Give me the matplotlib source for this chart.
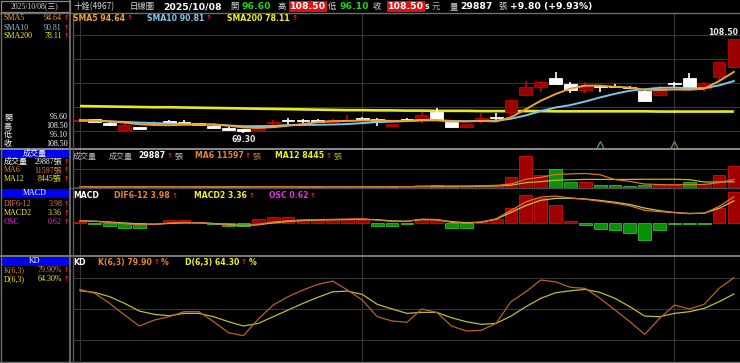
import matplotlib
matplotlib.use("Agg")
import matplotlib.pyplot as plt
from matplotlib.patches import Rectangle
import matplotlib.transforms as mtrans
import numpy as np

W, H, DPI = 740, 363, 100

# ---------------- data ----------------
stock_name = "十銓(4967)"
chart_type = "日線圖"
date_str = "2025/10/08"
weekday = "三"

opens = [74.2, 74.9, 73.2, 70.4, 71.5, 72.8, 74.1, 73.6, 73.2, 72.1,
         71.4, 70.7, 70.2, 73.3, 74.4, 74.2, 74.6, 73.9, 74.3, 75.2,
         75.2, 72.1, 75.0, 74.6, 78.0, 73.9, 71.5, 75.0, 75.8, 78.0,
         85.0, 88.5, 92.0, 89.6, 87.1, 88.4, 88.6, 88.5, 86.7, 85.0,
         89.7, 92.0, 87.8, 92.6, 96.6]
highs = [74.6, 75.0, 73.6, 73.2, 71.8, 74.1, 74.4, 74.5, 73.4, 72.3,
         71.6, 71.0, 72.7, 74.6, 75.3, 74.9, 74.8, 74.9, 76.7, 76.0,
         75.5, 73.0, 75.6, 77.8, 79.5, 74.1, 73.0, 77.4, 77.4, 83.0,
         91.0, 90.7, 94.7, 90.5, 90.5, 88.6, 89.5, 88.7, 86.9, 88.7,
         90.5, 94.0, 90.5, 98.8, 108.5]
lows = [74.0, 73.6, 72.0, 70.1, 70.4, 72.0, 73.1, 72.6, 72.2, 70.9,
        70.2, 69.3, 70.0, 72.6, 73.0, 73.2, 73.8, 73.7, 73.9, 74.6,
        72.2, 71.9, 74.1, 73.2, 74.4, 71.3, 71.3, 73.2, 73.9, 75.8,
        84.8, 86.4, 89.3, 85.7, 85.7, 86.4, 87.8, 87.8, 82.1, 84.8,
        88.5, 87.4, 86.8, 91.3, 96.1]
closes = [74.4, 73.8, 72.6, 72.5, 70.7, 73.1, 73.4, 73.5, 72.4, 71.1,
          70.4, 70.1, 72.4, 73.9, 74.2, 74.0, 73.95, 74.4, 74.6, 75.0,
          74.0, 72.8, 74.4, 76.7, 74.6, 71.5, 72.8, 75.4, 75.6, 82.9,
          88.5, 90.5, 89.5, 86.9, 89.2, 88.2, 88.15, 88.0, 82.3, 88.5,
          89.5, 87.6, 89.9, 98.7, 108.5]

sma5 = [74.6, 74.4, 74.0, 73.5, 72.8, 72.5, 72.4, 72.6, 72.6, 72.7,
        72.2, 71.5, 71.3, 71.6, 72.2, 72.9, 73.7, 74.1, 74.2, 74.4,
        74.4, 74.2, 74.2, 74.6, 74.5, 74.0, 74.0, 74.2, 74.0, 75.7,
        79.1, 82.6, 85.4, 87.7, 88.9, 88.9, 88.4, 88.1, 87.2, 87.1,
        87.3, 87.2, 87.6, 90.8, 94.64]
sma10 = [74.3, 74.2, 74.0, 73.8, 73.5, 73.3, 73.1, 72.9, 72.8, 72.7,
         72.3, 72.0, 72.0, 72.1, 72.5, 72.5, 72.6, 72.7, 72.9, 73.3,
         73.7, 73.9, 74.1, 74.4, 74.5, 74.2, 74.1, 74.2, 74.3, 75.1,
         76.5, 78.3, 79.8, 80.8, 82.3, 84.0, 85.5, 86.8, 87.4, 88.0,
         88.1, 87.8, 87.85, 89.0, 90.81]
sma200 = [80.4, 80.3, 80.2, 80.1, 80.0, 79.9, 79.9, 79.8, 79.7, 79.6,
          79.5, 79.4, 79.3, 79.2, 79.1, 79.0, 78.9, 78.8, 78.7, 78.7,
          78.6, 78.6, 78.5, 78.5, 78.4, 78.4, 78.4, 78.3, 78.3, 78.3,
          78.3, 78.3, 78.2, 78.2, 78.2, 78.2, 78.2, 78.2, 78.2, 78.1,
          78.1, 78.1, 78.1, 78.1, 78.11]

volume = [2000, 1500, 1500, 2500, 1500, 1200, 1500, 1200, 1500, 1500,
          1500, 1800, 2500, 1500, 1500, 1200, 1200, 1500, 1500, 1500,
          2500, 2000, 1500, 4000, 4000, 2700, 2000, 4500, 4500, 14500,
          43500, 17700, 25800, 8500, 8500, 4000, 4000, 2700, 4500, 4500,
          5000, 7500, 5000, 17500, 29887]
vol_ma6 = [1700, 1700, 1700, 1750, 1750, 1700, 1617, 1567, 1567, 1400,
           1400, 1500, 1667, 1717, 1717, 1667, 1617, 1567, 1400, 1400,
           1567, 1700, 1750, 2167, 2583, 2783, 2700, 3117, 3617, 5367,
           11950, 14450, 18417, 19083, 19750, 18000, 11417, 8917, 5367, 4700,
           4117, 4700, 4867, 7333, 11597]
vol_ma12 = [1700, 1700, 1680, 1680, 1660, 1650, 1650, 1640, 1630, 1620,
            1620, 1600, 1642, 1642, 1642, 1533, 1508, 1533, 1533, 1558,
            1642, 1683, 1683, 1867, 1992, 2092, 2133, 2408, 2683, 3767,
            7267, 8617, 10558, 11100, 11683, 11683, 11683, 11683, 11892, 11892,
            11933, 11350, 8142, 8125, 8445]

dif = [0.30, 0.20, 0.05, -0.15, -0.30, -0.25, -0.05, 0.05, 0.00, -0.15,
       -0.35, -0.50, -0.25, 0.10, 0.30, 0.40, 0.48, 0.52, 0.56, 0.58,
       0.40, 0.20, 0.20, 0.55, 0.50, 0.05, -0.10, 0.10, 0.60, 1.90,
       3.20, 3.95, 4.10, 3.80, 3.60, 3.30, 3.00, 2.60, 1.90, 1.70,
       1.55, 1.40, 1.45, 2.50, 3.98]
macd2 = [0.28, 0.23, 0.11, -0.05, -0.18, -0.25, -0.11, -0.01, -0.01, -0.12,
         -0.29, -0.43, -0.32, -0.02, 0.19, 0.33, 0.42, 0.45, 0.49, 0.53,
         0.47, 0.27, 0.23, 0.48, 0.45, 0.17, 0.00, 0.09, 0.53, 1.59,
         2.64, 3.45, 3.74, 3.77, 3.65, 3.43, 3.15, 2.80, 2.25, 1.85,
         1.57, 1.42, 1.47, 2.21, 3.36]
osc = [0.02, -0.027, -0.06, -0.10, -0.116, 0.0, 0.055, 0.055, 0.01, -0.035,
       -0.06, -0.067, 0.067, 0.12, 0.11, 0.075, 0.06, 0.067, 0.075, 0.055,
       -0.067, -0.067, -0.027, 0.075, 0.055, -0.116, -0.10, 0.01, 0.075, 0.31,
       0.565, 0.50, 0.36, 0.035, -0.047, -0.13, -0.15, -0.20, -0.35, -0.15,
       -0.02, -0.02, -0.02, 0.29, 0.62]

k_line = [68.7, 64.9, 55.3, 44.1, 33.6, 39.3, 42.5, 47.3, 47.3, 37.7,
          27.1, 24.3, 40.3, 53.7, 61.7, 68.1, 73.5, 76.7, 68.1, 58.5,
          42.5, 38.4, 37.1, 49.9, 46.7, 33.6, 28.8, 29.4, 36.1, 56.9,
          66.4, 77.7, 76.0, 70.7, 69.7, 60.1, 48.9, 37.7, 25.6, 40.9,
          53.7, 49.9, 54.4, 69.7, 79.9]
d_line = [67.4, 65.8, 61.7, 55.3, 47.9, 44.8, 43.4, 45.7, 45.7, 42.5,
          37.7, 33.6, 36.1, 42.5, 48.9, 55.3, 61.1, 66.4, 67.1, 63.9,
          54.4, 49.9, 45.7, 46.7, 46.7, 41.5, 37.7, 35.2, 36.1, 43.1,
          52.1, 60.1, 65.5, 67.4, 68.7, 65.8, 60.1, 52.1, 43.1, 42.5,
          45.7, 47.3, 50.5, 56.9, 64.3]

price_grid = [110, 100, 90, 80, 70]
kd_grid = [80, 50, 20]
month_idx = [0, 19, 40]
event_idx = [35, 40]

# ---------------- styles ----------------
SANS = ['DejaVu Sans', 'Noto Sans CJK TC']
CJK = ['Noto Sans CJK TC', 'DejaVu Sans']
SERIF = ['Liberation Serif', 'Noto Sans CJK TC']
GRID = '#363636'
ORANGE = '#f0a03a'
ORANGE2 = '#e8843a'
BLUE = '#80c8ec'
YELLOW = '#f0f020'
MAGENTA = '#e030e0'
GREEN_T = '#20d020'
RED_A = '#ff2020'

fig = plt.figure(figsize=(W / DPI, H / DPI), dpi=DPI, facecolor='black')


def px_axes(x0, y0, x1, y1):
    return fig.add_axes([x0 / W, 1 - y1 / H, (x1 - x0) / W, (y1 - y0) / H])


def clean(ax):
    ax.set_facecolor('black')
    for s in ax.spines.values():
        s.set_visible(False)
    ax.set_xticks([])
    ax.set_yticks([])
    ax.set_xlim(-0.47, 44.41)


n = len(closes)
x = np.arange(n)
o = np.array(opens); c = np.array(closes); hi = np.array(highs); lo = np.array(lows)
up = c >= o

# ---------------- price panel ----------------
axp = px_axes(73, 13, 740, 148)
clean(axp)
axp.set_ylim(62.92, 119.17)
for g in price_grid:
    axp.axhline(g, color=GRID, lw=0.8, zorder=0)
for gi in month_idx:
    axp.axvline(gi, color=GRID, lw=0.8, zorder=0)

axp.plot(x, sma200, color='#e8e820', lw=1.9, zorder=1.5, solid_capstyle='butt')
bb = np.minimum(o, c)
bh = np.maximum(np.abs(c - o), 0.4)
axp.vlines(x[up], lo[up], hi[up], color='#d00000', lw=1.2, zorder=2)
axp.vlines(x[~up], lo[~up], hi[~up], color='white', lw=1.2, zorder=2)
axp.bar(x[up], bh[up], bottom=bb[up], width=0.86, color='#990000',
        edgecolor='#c80000', lw=0.6, zorder=3)
axp.bar(x[~up], bh[~up], bottom=bb[~up], width=0.86, color='white',
        edgecolor='white', lw=0.6, zorder=3)
axp.plot(x, sma10, color='#78c8e8', lw=1.4, zorder=4)
axp.plot(x, sma5, color='#f0a030', lw=1.4, zorder=4)

imax = int(np.argmax(hi)); imin = int(np.argmin(lo))
axp.annotate(f"{hi[imax]:.2f}", xy=(imax, hi[imax]), xytext=(3, 1.5),
             textcoords='offset points', ha='right', va='bottom',
             color='#e8e8e8', fontsize=5.6, fontweight='bold', family=SANS, zorder=6)
axp.annotate(f"{lo[imin]:.2f}", xy=(imin, lo[imin]), xytext=(0, -1.5),
             textcoords='offset points', ha='center', va='top',
             color='#e8e8e8', fontsize=5.6, fontweight='bold', family=SANS, zorder=6)
trans = mtrans.blended_transform_factory(axp.transData, axp.transAxes)
for ei, col in zip(event_idx, ['#4a9a9a', '#a07850']):
    axp.plot([ei], [0.02], marker='^', ms=6, mfc='none', mec=col, mew=0.9,
             transform=trans, clip_on=False, zorder=5)

# ---------------- volume panel ----------------
axv = px_axes(73, 149, 740, 188)
clean(axv)
axv.set_ylim(0, 52960)
axv.axhline(26480, color=GRID, lw=0.8, zorder=0)
for gi in month_idx:
    axv.axvline(gi, color=GRID, lw=0.8, zorder=0)
prev = np.concatenate([[o[0]], c[:-1]])
vup = c >= prev
axv.bar(x[vup], np.array(volume)[vup], width=0.86, color='#a00000',
        edgecolor='#d01010', lw=0.6, zorder=2)
axv.bar(x[~vup], np.array(volume)[~vup], width=0.86, color='#089008',
        edgecolor='#30c030', lw=0.6, zorder=2)
axv.plot(x, vol_ma12, color='#b8b838', lw=0.9, zorder=3)
axv.plot(x, vol_ma6, color='#d07828', lw=0.9, zorder=3)

# ---------------- MACD panel ----------------
axm = px_axes(73, 188, 740, 255)
clean(axm)
axm.set_ylim(-0.659, 0.708)
for gi in month_idx:
    axm.axvline(gi, color=GRID, lw=0.8, zorder=0)
oa = np.array(osc)
pos = oa >= 0
axm.bar(x[pos], oa[pos], width=0.86, color='#a00000', edgecolor='#d01010', lw=0.6, zorder=2)
axm.bar(x[~pos], oa[~pos], width=0.86, color='#089008', edgecolor='#30c030', lw=0.6, zorder=2)
axm2 = axm.twinx()
clean(axm2)
axm2.patch.set_alpha(0)
axm2.set_ylim(-4.97, 5.34)
axm2.plot(x, macd2, color='#c8c838', lw=0.9)
axm2.plot(x, dif, color='#d87830', lw=0.9)

# ---------------- KD panel ----------------
axk = px_axes(73, 256.8, 740, 361)
clean(axk)
axk.set_ylim(0, 100)
for g in kd_grid:
    axk.axhline(g, color=GRID, lw=0.8, zorder=0)
for gi in month_idx:
    axk.axvline(gi, color=GRID, lw=0.8, zorder=0)
axk.plot(x, d_line, color='#b8c030', lw=0.9)
axk.plot(x, k_line, color='#b86028', lw=0.9)

# ---------------- overlay: frame and text ----------------
ov = fig.add_axes([0, 0, 1, 1], zorder=10)
ov.set_xlim(0, W); ov.set_ylim(H, 0)
ov.axis('off')
ov.patch.set_alpha(0)

LG = '#6e6e6e'
ov.plot([0, W], [12.5, 12.5], color=LG, lw=1.0)
ov.plot([0, W], [148.5, 148.5], color='#8a8a8a', lw=1.4)
ov.plot([70, W], [188.3, 188.3], color='#504a58', lw=1.0)
ov.plot([0, W], [256, 256], color='#7a7a7a', lw=1.4)
ov.plot([0, W], [361.6, 361.6], color=LG, lw=1.0)
ov.plot([0.6, 0.6], [12.5, 363], color=LG, lw=1.0)
ov.plot([70.3, 70.3], [0, 363], color='#7a7a7a', lw=1.2)
ov.plot([72.8, 72.8], [12.5, 362], color='#555555', lw=1.0)
ov.add_patch(Rectangle((1, 0.6), 68.6, 11.4, fc='black', ec='#8a8a8a', lw=0.9))

r = fig.canvas.get_renderer()


def put(xp, yp, s, color, size, bold=False, fam=SANS, ha='left', **kw):
    t = ov.text(xp, yp, s, color=color, fontsize=size,
                fontweight='bold' if bold else 'normal', family=fam,
                ha=ha, va='center', **kw)
    return t.get_window_extent(renderer=r).x1


def arrow(xp, yp, size=5.2):
    return put(xp, yp, '↑', RED_A, size, bold=True)


# header row 1
Y1 = 6.6
put(35, Y1, f"{date_str}({weekday})", '#d0d0d0', 5.6, fam=SERIF, ha='center')
put(73.5, Y1, stock_name, '#d8d8d8', 6.0, fam=CJK)
put(130, Y1, chart_type, '#d8d8d8', 6.0, fam=CJK)
put(163, Y1, date_str, 'white', 6.7, bold=True)
put(230, Y1, "開", '#d8d8d8', 6.0, fam=CJK)
put(242, Y1, f"{opens[-1]:.2f}", GREEN_T, 6.7, bold=True)
put(277, Y1, "高", '#d8d8d8', 6.0, fam=CJK)
box = dict(boxstyle='square,pad=0.12', fc='#e01010', ec='none')
put(290, Y1, f"{highs[-1]:.2f}", 'white', 6.7, bold=True, bbox=box)
put(328, Y1, "低", '#d8d8d8', 6.0, fam=CJK)
put(340, Y1, f"{lows[-1]:.2f}", GREEN_T, 6.7, bold=True)
put(373, Y1, "收", '#d8d8d8', 6.0, fam=CJK)
put(388, Y1, f"{closes[-1]:.2f}", 'white', 6.7, bold=True, bbox=box)
put(425, Y1, "s", 'white', 5.6, bold=True)
put(432, Y1, "元", '#b0b0b0', 6.0, fam=CJK)
put(450, Y1, "量", '#d8d8d8', 6.0, fam=CJK)
put(460, Y1, f"{volume[-1]}", 'white', 6.7, bold=True)
put(498, Y1, "張", '#d8d8d8', 6.0, fam=CJK)
chg = closes[-1] - closes[-2]
pct = chg / closes[-2] * 100
put(510, Y1, f"{chg:+.2f} ({pct:+.2f}%)", 'white', 6.7, bold=True)

# header row 2 (SMA)
Y2 = 18.5
for xs, lab, val, col in [(73, 'SMA5', sma5[-1], ORANGE),
                          (147, 'SMA10', sma10[-1], BLUE),
                          (227, 'SMA200', sma200[-1], YELLOW)]:
    xe = put(xs, Y2, f"{lab} {val:.2f}", col, 5.6, bold=True)
    arrow(xe + 1.5, Y2)

# volume header
YV = 156
put(73, YV, "成交量", '#b8b8b8', 5.8, fam=CJK)
put(109, YV, "成交量", '#b8b8b8', 5.8, fam=CJK)
xe = put(138, YV, f"{volume[-1]}", 'white', 5.6, bold=True)
xe = arrow(xe + 1, YV)
put(xe + 2, YV, "張", '#c8c8c8', 5.8, fam=CJK)
xe = put(195, YV, f"MA6 {vol_ma6[-1]}", ORANGE2, 5.6, bold=True)
xe = arrow(xe + 1, YV)
put(xe + 2, YV, "張", '#c08040', 5.8, fam=CJK)
xe = put(275, YV, f"MA12 {vol_ma12[-1]}", YELLOW, 5.6, bold=True)
xe = arrow(xe + 1, YV)
put(xe + 2, YV, "張", '#b0b040', 5.8, fam=CJK)

# MACD header
YM = 195.5
put(73, YM, "MACD", 'white', 5.6, bold=True)
for xs, lab, val, col in [(114, 'DIF6-12', dif[-1], ORANGE2),
                          (194, 'MACD2', macd2[-1], YELLOW),
                          (269, 'OSC', osc[-1], MAGENTA)]:
    xe = put(xs, YM, f"{lab} {val:.2f}", col, 5.6, bold=True)
    arrow(xe + 1.5, YM)

# KD header
YK = 262.5
put(73, YK, "KD", 'white', 5.6, bold=True)
for xs, lab, val, col in [(98, 'K(6,3)', k_line[-1], ORANGE2),
                          (185, 'D(6,3)', d_line[-1], YELLOW)]:
    xe = put(xs, YK, f"{lab} {val:.2f}", col, 5.6, bold=True)
    xe = arrow(xe + 1.5, YK)
    put(xe + 1.5, YK, "%", col, 5.6, bold=True)

# ---------------- left info panel ----------------
LS = 5.8
for yy, lab, val, col in [(18.5, 'SMA5', sma5[-1], ORANGE),
                          (27.5, 'SMA10', sma10[-1], BLUE),
                          (36.5, 'SMA200', sma200[-1], YELLOW)]:
    put(4, yy, lab, col, LS, fam=SERIF)
    put(62, yy, f"{val:.2f}", col, LS, fam=SERIF, ha='right')
    arrow(63.5, yy, 4.8)

for yy, lab, val in [(117, '開', opens[-1]), (126, '高', highs[-1]),
                     (135, '低', lows[-1]), (143.5, '收', closes[-1])]:
    put(4, yy, lab, 'white', LS, fam=CJK)
    put(68, yy, f"{val:.2f}", 'white', LS, fam=SERIF, ha='right')

for y0, y1, lab in [(149.5, 158, '成交量'), (189, 197.5, 'MACD'), (257, 265.8, 'KD')]:
    ov.add_patch(Rectangle((2, y0), 66.5, y1 - y0, fc='#0000f0', ec='none'))
    put(35, (y0 + y1) / 2, lab, 'white', 5.8, fam=SERIF, ha='center')

for yy, lab, val, col in [(162, '成交量', f"{volume[-1]}張", 'white'),
                          (170.5, 'MA6', f"{vol_ma6[-1]}張", ORANGE2),
                          (179, 'MA12', f"{vol_ma12[-1]}張", YELLOW),
                          (204.5, 'DIF6-12', f"{dif[-1]:.2f}", ORANGE2),
                          (213, 'MACD2', f"{macd2[-1]:.2f}", YELLOW),
                          (221.5, 'OSC', f"{osc[-1]:.2f}", MAGENTA),
                          (270, 'K(6,3)', f"{k_line[-1]:.2f}%", ORANGE2),
                          (279, 'D(6,3)', f"{d_line[-1]:.2f}%", YELLOW)]:
    put(4, yy, lab, col, LS, fam=SERIF)
    put(62, yy, val, col, LS, fam=SERIF, ha='right')
    arrow(63.5, yy, 4.8)

fig.savefig("out.png", dpi=DPI, facecolor='black')
